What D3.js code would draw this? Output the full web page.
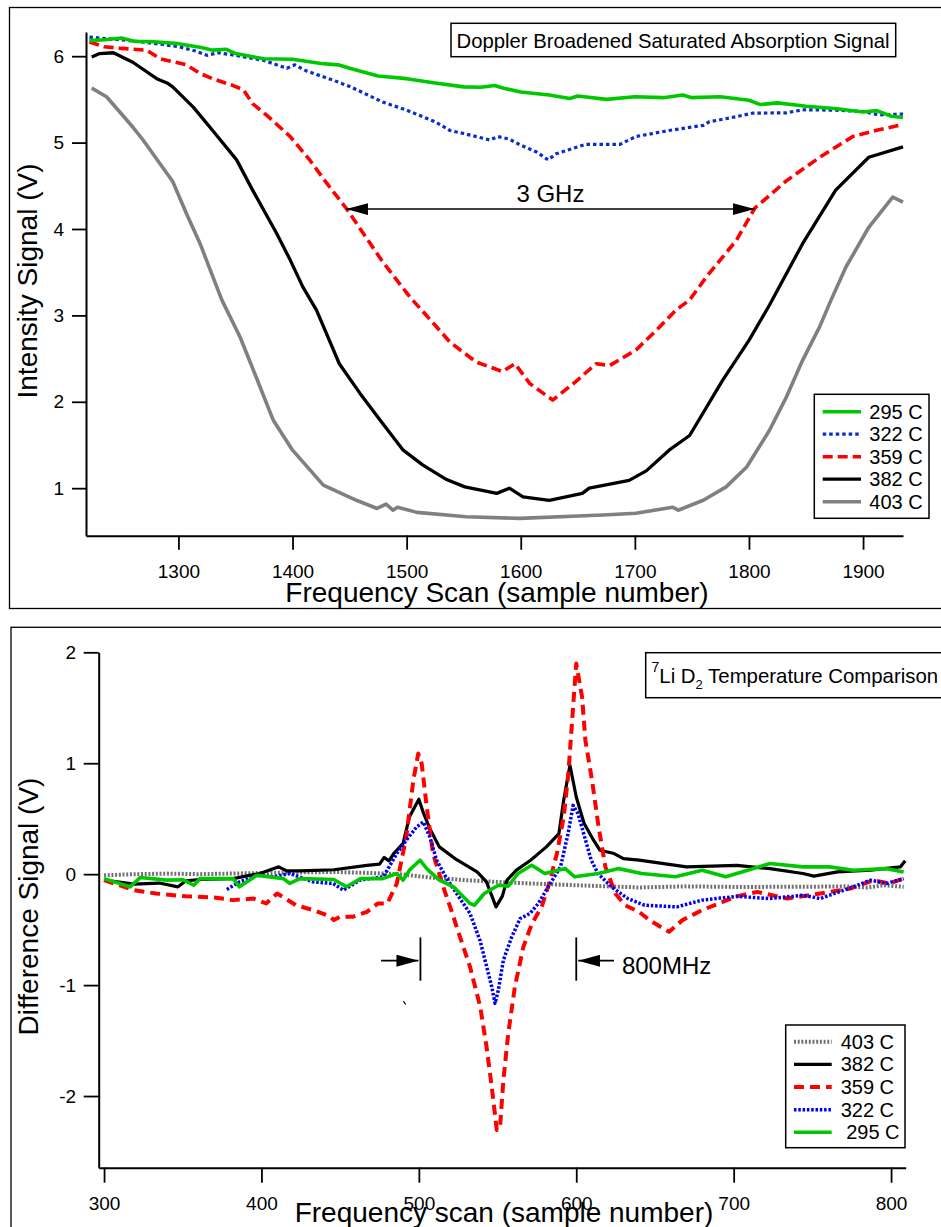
<!DOCTYPE html>
<html>
<head>
<meta charset="utf-8">
<script src="https://cdn.jsdelivr.net/npm/d3@7"></script>
<style>
  body { margin: 0; background: #fff; }
  svg { display: block; font-family: "Liberation Sans", Arial, Helvetica, sans-serif; }
</style>
</head>
<body>
<div id="chart"></div>
<script>
// Li cell absorption: top = Doppler broadened signal, bottom = difference signal
var top295 = [[1222,6.18],[1235,6.19],[1250,6.21],[1262,6.17],[1275,6.17],[1300,6.145],[1320,6.1],[1330,6.07],[1342,6.08],[1350,6.03],[1375,5.97],[1400,5.965],[1425,5.915],[1440,5.9],[1450,5.86],[1475,5.77],[1500,5.74],[1525,5.69],[1550,5.645],[1565,5.64],[1577,5.66],[1585,5.63],[1600,5.585],[1625,5.55],[1643,5.51],[1650,5.54],[1675,5.5],[1700,5.53],[1725,5.52],[1742,5.55],[1750,5.52],[1775,5.53],[1800,5.49],[1810,5.44],[1825,5.46],[1850,5.42],[1875,5.395],[1900,5.355],[1912,5.37],[1925,5.305],[1935,5.29]]
var top322 = [[1222,6.22],[1250,6.19],[1275,6.155],[1300,6.11],[1315,6.06],[1325,6.01],[1335,6.04],[1350,6.01],[1375,5.95],[1395,5.86],[1402,5.9],[1412,5.83],[1425,5.77],[1436,5.72],[1450,5.65],[1479,5.47],[1500,5.375],[1525,5.24],[1538,5.14],[1550,5.105],[1573,5.03],[1580,5.07],[1590,5.04],[1600,4.97],[1614,4.89],[1624,4.8],[1631,4.87],[1657,4.98],[1687,4.98],[1701,5.07],[1730,5.14],[1760,5.2],[1765,5.24],[1789,5.3],[1803,5.34],[1833,5.345],[1847,5.38],[1876,5.375],[1900,5.36],[1914,5.32],[1935,5.33]]
var top359 = [[1222,6.165],[1235,6.11],[1250,6.09],[1272,6.07],[1284,5.97],[1307,5.9],[1319,5.8],[1330,5.74],[1348,5.66],[1357,5.61],[1365,5.45],[1377,5.32],[1398,5.07],[1415,4.8],[1430,4.53],[1447,4.24],[1479,3.62],[1503,3.21],[1520,2.96],[1538,2.69],[1561,2.46],[1584,2.35],[1595,2.44],[1608,2.21],[1628,2.02],[1647,2.22],[1666,2.44],[1678,2.42],[1701,2.6],[1719,2.83],[1736,3.06],[1748,3.18],[1763,3.45],[1789,3.87],[1805,4.24],[1833,4.56],[1862,4.83],[1891,5.07],[1911,5.14],[1935,5.21]]
var top382 = [[1224,5.99],[1231,6.03],[1243,6.04],[1260,5.93],[1281,5.74],[1290,5.69],[1295,5.645],[1313,5.41],[1330,5.14],[1351,4.8],[1365,4.45],[1386,3.95],[1398,3.64],[1409,3.33],[1421,3.06],[1441,2.44],[1459,2.1],[1479,1.75],[1497,1.44],[1514,1.27],[1535,1.1],[1551,1.015],[1579,0.94],[1590,1.0],[1602,0.9],[1625,0.86],[1654,0.94],[1660,1.0],[1695,1.09],[1710,1.2],[1730,1.44],[1748,1.61],[1777,2.25],[1800,2.71],[1818,3.12],[1847,3.83],[1876,4.45],[1905,4.83],[1935,4.95]]
var top403 = [[1224,5.63],[1237,5.53],[1260,5.18],[1269,5.03],[1295,4.55],[1307,4.18],[1319,3.83],[1338,3.18],[1354,2.75],[1368,2.29],[1383,1.79],[1400,1.44],[1427,1.035],[1456,0.86],[1474,0.765],[1482,0.815],[1488,0.745],[1492,0.78],[1509,0.72],[1552,0.67],[1599,0.65],[1672,0.69],[1701,0.71],[1733,0.78],[1738,0.745],[1760,0.86],[1780,1.015],[1798,1.245],[1818,1.67],[1833,2.06],[1847,2.48],[1862,2.87],[1872,3.18],[1885,3.56],[1905,4.02],[1926,4.37],[1935,4.31]]

var bot403 = [[300,-0.01],[320,0.0],[340,0.005],[360,0.0],[382,0.006],[400,0.01],[420,0.015],[446,0.02],[470,0.01],[488,0.0],[507,-0.03],[530,-0.054],[550,-0.07],[571,-0.084],[600,-0.1],[640,-0.12],[670,-0.11],[700,-0.115],[744,-0.114],[770,-0.11],[785,-0.12],[795,-0.1],[808,-0.114]]
var bot382 = [[300,-0.054],[319,-0.09],[335,-0.08],[347,-0.114],[352,-0.06],[361,-0.048],[382,-0.04],[399,0.006],[411,0.066],[416,0.03],[424,0.03],[446,0.04],[467,0.08],[475,0.09],[478,0.15],[481,0.12],[484,0.186],[490,0.277],[494,0.516],[500,0.676],[503,0.547],[507,0.41],[513,0.246],[524,0.13],[537,0.02],[543,-0.07],[549,-0.295],[553,-0.2],[556,-0.054],[562,0.036],[571,0.126],[581,0.246],[589,0.366],[592,0.667],[596,0.982],[600,0.696],[605,0.457],[611,0.306],[615,0.216],[624,0.186],[630,0.14],[640,0.126],[670,0.066],[702,0.08],[723,0.05],[744,0.006],[751,-0.018],[766,0.02],[787,0.036],[806,0.066],[809,0.12]]
var bot359 = [[300,-0.054],[319,-0.144],[333,-0.174],[352,-0.2],[370,-0.21],[382,-0.234],[395,-0.22],[403,-0.264],[410,-0.174],[422,-0.28],[433,-0.324],[444,-0.384],[446,-0.414],[450,-0.384],[458,-0.384],[467,-0.34],[474,-0.264],[480,-0.264],[486,-0.084],[492,0.336],[496.5,0.847],[499.6,1.087],[501.8,0.997],[505,0.606],[509,0.186],[515.5,-0.114],[522,-0.384],[524,-0.475],[532.5,-0.835],[539,-1.196],[543,-1.556],[546.3,-1.916],[549.5,-2.306],[551.6,-2.276],[553.7,-1.856],[556.8,-1.435],[561,-1.015],[566.4,-0.655],[571.7,-0.45],[578,-0.295],[583.4,-0.054],[587.7,0.186],[592,0.516],[595,0.907],[598.3,1.568],[600,1.898],[603.7,1.597],[605.8,1.207],[610,0.847],[614.2,0.426],[618.5,0.066],[624.8,-0.174],[631,-0.28],[640,-0.34],[646.4,-0.414],[659,-0.52],[667.5,-0.414],[680,-0.324],[693,-0.25],[702,-0.2],[715,-0.16],[734,-0.22],[755,-0.174],[774,-0.13],[789,-0.054],[799,-0.084],[808,-0.04]]
var bot322 = [[378,-0.138],[386,-0.07],[397,-0.01],[407.5,-0.024],[418,0.006],[433,-0.07],[445.6,-0.084],[452,-0.144],[462.6,-0.054],[477.4,-0.024],[486,0.186],[492,0.306],[498.6,0.426],[502.8,0.47],[507,0.336],[511.3,0.126],[517.7,-0.04],[524,-0.174],[532.5,-0.354],[538.9,-0.6],[543.1,-0.835],[546.3,-1.015],[548.4,-1.165],[550.5,-1.045],[553.7,-0.775],[559,-0.565],[564.4,-0.4],[570.6,-0.354],[575.9,-0.264],[582.2,-0.114],[590,0.066],[594.8,0.366],[598,0.62],[601.1,0.547],[605.3,0.336],[609.5,0.126],[613.8,0.006],[622.3,-0.114],[632.8,-0.22],[643.4,-0.28],[664,-0.295],[680,-0.234],[702,-0.2],[723,-0.22],[744,-0.19],[755,-0.22],[776,-0.114],[787,-0.054],[797,-0.084],[808,-0.04]]
var bot295 = [[300,-0.04],[316.5,-0.114],[323,-0.03],[340,-0.054],[350,-0.05],[357,-0.1],[361,-0.04],[382,-0.04],[386,-0.114],[397,-0.01],[414,-0.04],[418,-0.084],[424.5,-0.04],[446,-0.048],[454,-0.114],[463,-0.04],[477,-0.04],[486,0.006],[490,-0.054],[494,0.036],[500.7,0.126],[505,0.05],[513,-0.054],[522,-0.114],[532.5,-0.264],[535.3,-0.28],[541.6,-0.174],[550.5,-0.1],[556.8,-0.108],[563,0.006],[571.7,0.08],[580,0.006],[593,0.05],[599,-0.024],[614,0.006],[627,0.05],[641.5,0.006],[663,-0.024],[680,0.036],[695,-0.024],[723,0.096],[744,0.066],[761,0.066],[776,0.036],[797,0.05],[808,0.02]]

var topLabels = ['295 C', '322 C', '359 C', '382 C', '403 C'],
  topXTicks = [1300, 1400, 1500, 1600, 1700, 1800, 1900],
  topYTicks = [1, 2, 3, 4, 5, 6]
var botLabels = ['403 C', '382 C', '359 C', '322 C', '295 C'],
  botXTicks = [300, 400, 500, 600, 700, 800],
  botYTicks = [-2, -1, 0, 1, 2]

// 3 GHz span (top) and 800MHz markers (bottom), data units
var spanGHz = [1447, 1805], spanGHzY = 4.23
var markMHz = [501, 600], markMHzY = -0.78

;(function() {
  var
    W = 941,
    H = 1227,
    GREEN = '#00c800',
    RED = '#ff0000',
    GREY = '#808080'

  var svg = d3.select('#chart').append('svg').attr('width', W).attr('height', H)

  svg.append('defs').append('marker')
    .attr('id', 'arrow')
    .attr('markerUnits', 'userSpaceOnUse')
    .attr('markerWidth', 22).attr('markerHeight', 12)
    .attr('refX', 22).attr('refY', 6)
    .attr('orient', 'auto-start-reverse')
    .append('path').attr('d', 'M0,0L22,6L0,12Z').attr('fill', 'black')

  var top = panel({
    frame: [9.5, 7.5, 1000, 601],
    xDomain: [1219, 1935], xRange: [86, 903],
    yDomain: [0.45, 6.28], yRange: [535.7, 32],
    xTicks: topXTicks, yTicks: topYTicks,
    tickLen: 14, xPad: 15, yPad: 8,
    xTitle: 'Frequency Scan (sample number)', xTitleAt: [497, 602],
    yTitle: 'Intensity Signal (V)', yTitleAt: [37, 281],
    series: [top403, top382, top359, top322, top295],
    styles: [
      { color: GREY, width: 3.6 },
      { color: '#000', width: 3.3 },
      { color: RED, width: 3.6, dash: '10,5' },
      { color: '#0a2ecc', width: 3.2, dash: '3.5,3' },
      { color: GREEN, width: 3.6 }
    ],
    legend: { box: [814.3, 394.3, 114.7, 124], rowY: 411.7, step: 22.5, sx: [822.7, 861], tx: 869.3,
      order: [4, 3, 2, 1, 0], labels: topLabels }
  })

  // title box top
  top.g.append('rect').attr('x', 451).attr('y', 23.3).attr('width', 444.7).attr('height', 33.4)
    .attr('fill', 'white').attr('stroke', 'black').attr('stroke-width', 1.5)
  top.g.append('text').attr('x', 456.5).attr('y', 47.5).attr('font-size', 20.3)
    .text('Doppler Broadened Saturated Absorption Signal')

  top.g.append('line')
    .attr('x1', top.x(spanGHz[0])).attr('x2', top.x(spanGHz[1]))
    .attr('y1', top.y(spanGHzY)).attr('y2', top.y(spanGHzY))
    .attr('stroke', 'black').attr('stroke-width', 1.5)
    .attr('marker-start', 'url(#arrow)').attr('marker-end', 'url(#arrow)')
  top.g.append('text')
    .attr('x', top.x(d3.mean(spanGHz))).attr('y', top.y(spanGHzY) - 7)
    .attr('text-anchor', 'middle').attr('font-size', 24).text('3 GHz')

  var bot = panel({
    frame: [11, 627.3, 1000, 700],
    xDomain: [296.6, 809.3], xRange: [98.7, 905.7],
    yDomain: [-2.646, 2], yRange: [1167.7, 652.3],
    xTicks: botXTicks, yTicks: botYTicks,
    tickLen: 15, xPad: 13.5, yPad: 7.5,
    xTitle: 'Frequency scan (sample number)', xTitleAt: [504, 1221.5],
    yTitle: 'Difference Signal (V)', yTitleAt: [38, 906.5],
    series: [bot403, bot382, bot359, bot322, bot295],
    styles: [
      { color: '#707070', width: 4, dash: '2,1.7' },
      { color: '#000', width: 3.2 },
      { color: RED, width: 4, dash: '10,6' },
      { color: '#0000f0', width: 3.5, dash: '2.5,1.8' },
      { color: GREEN, width: 3.6 }
    ],
    legend: { box: [785.7, 1025, 119.3, 122.7], rowY: 1041.7, step: 22.65, sx: [794, 831.7], tx: 840.7,
      order: [0, 1, 2, 3, 4], labels: botLabels }
  })

  // title box bottom, runs off the right edge
  bot.g.append('rect').attr('x', 645.7).attr('y', 652.7).attr('width', 310).attr('height', 45)
    .attr('fill', 'white').attr('stroke', 'black').attr('stroke-width', 1.5)
  var t = bot.g.append('text').attr('x', 651.5).attr('y', 683.3).attr('font-size', 20.4)
  t.append('tspan').attr('font-size', 14).attr('dy', -11.5).text('7')
  t.append('tspan').attr('dy', 11.5).text('Li D')
  t.append('tspan').attr('font-size', 13).attr('dy', 5.5).text('2')
  t.append('tspan').attr('dy', -5.5).text(' Temperature Comparison')

  var ah = bot.g.append('g').attr('stroke', 'black').attr('stroke-width', 1.8)
  markMHz.forEach(function(m) {
    ah.append('line')
      .attr('x1', bot.x(m)).attr('x2', bot.x(m))
      .attr('y1', bot.y(-0.57)).attr('y2', bot.y(-0.96))
  })
  ah.append('line')
    .attr('x1', bot.x(markMHz[0] - 25)).attr('x2', bot.x(markMHz[0]) - 2)
    .attr('y1', bot.y(markMHzY)).attr('y2', bot.y(markMHzY))
    .attr('marker-end', 'url(#arrow)')
  ah.append('line')
    .attr('x1', bot.x(markMHz[1] + 24)).attr('x2', bot.x(markMHz[1]) + 2)
    .attr('y1', bot.y(markMHzY)).attr('y2', bot.y(markMHzY))
    .attr('marker-end', 'url(#arrow)')
  bot.g.append('text')
    .attr('x', bot.x(markMHz[1] + 29)).attr('y', bot.y(markMHzY) + 13)
    .attr('font-size', 24).text('800MHz')
  // small stray tick left in the original
  bot.g.append('line')
    .attr('x1', bot.x(490.2)).attr('x2', bot.x(491.6))
    .attr('y1', bot.y(-1.145)).attr('y2', bot.y(-1.175))
    .attr('stroke', 'black').attr('stroke-width', 1.2)

  function panel(o) {
    var g = svg.append('g')
    var x = d3.scaleLinear().domain(o.xDomain).range(o.xRange),
      y = d3.scaleLinear().domain(o.yDomain).range(o.yRange),
      fmt = function(d) { return String(d) }

    g.append('rect')
      .attr('x', o.frame[0]).attr('y', o.frame[1]).attr('width', o.frame[2]).attr('height', o.frame[3])
      .attr('fill', 'none').attr('stroke', 'black').attr('stroke-width', 1.3)

    var xAxis = g.append('g')
      .attr('transform', 'translate(0,' + o.yRange[0] + ')')
      .call(d3.axisBottom(x).tickValues(o.xTicks).tickFormat(fmt)
        .tickSize(o.tickLen).tickSizeOuter(0).tickPadding(o.xPad))
    var yAxis = g.append('g')
      .attr('transform', 'translate(' + o.xRange[0] + ',0)')
      .call(d3.axisLeft(y).tickValues(o.yTicks).tickFormat(fmt)
        .tickSize(o.tickLen).tickSizeOuter(0).tickPadding(o.yPad))
    ;[xAxis, yAxis].forEach(function(a) {
      a.attr('font-family', null).attr('font-size', 19)
      a.select('.domain').attr('stroke-width', 2)
      a.selectAll('.tick line').attr('stroke-width', 1.8)
      a.selectAll('.tick text').attr('fill', 'black')
    })

    var line = d3.line().x(function(d) { return x(d[0]) }).y(function(d) { return y(d[1]) })

    g.append('g').selectAll('path')
      .data(o.series)
      .enter()
      .append('path')
      .attr('d', line)
      .attr('fill', 'none')
      .attr('stroke', function(d, i) { return o.styles[i].color })
      .attr('stroke-width', function(d, i) { return o.styles[i].width })
      .attr('stroke-dasharray', function(d, i) { return o.styles[i].dash || null })
      .attr('stroke-linejoin', 'round')

    g.append('text')
      .attr('x', o.xTitleAt[0]).attr('y', o.xTitleAt[1])
      .attr('text-anchor', 'middle').attr('font-size', 28).text(o.xTitle)
    g.append('text')
      .attr('transform', 'translate(' + o.yTitleAt[0] + ',' + o.yTitleAt[1] + ') rotate(-90)')
      .attr('text-anchor', 'middle').attr('font-size', 28).text(o.yTitle)

    var L = o.legend
    g.append('rect')
      .attr('x', L.box[0]).attr('y', L.box[1]).attr('width', L.box[2]).attr('height', L.box[3])
      .attr('fill', 'white').attr('stroke', 'black').attr('stroke-width', 1.5)
    var rows = g.append('g').selectAll('g')
      .data(L.order)
      .enter()
      .append('g')
      .attr('transform', function(d, i) { return 'translate(0,' + (L.rowY + i * L.step) + ')' })
    rows.append('line')
      .attr('x1', L.sx[0]).attr('x2', L.sx[1])
      .attr('stroke', function(d) { return o.styles[d].color })
      .attr('stroke-width', function(d) { return o.styles[d].width })
      .attr('stroke-dasharray', function(d) { return o.styles[d].dash || null })
    rows.append('text')
      .attr('x', function(d, i) { return L.tx + (i === 4 && L.order[0] === 0 ? 5.5 : 0) })
      .attr('y', 7).attr('font-size', 20)
      .text(function(d, i) { return L.labels[i] })

    return { g: g, x: x, y: y }
  }
})()
</script>
</body>
</html>
